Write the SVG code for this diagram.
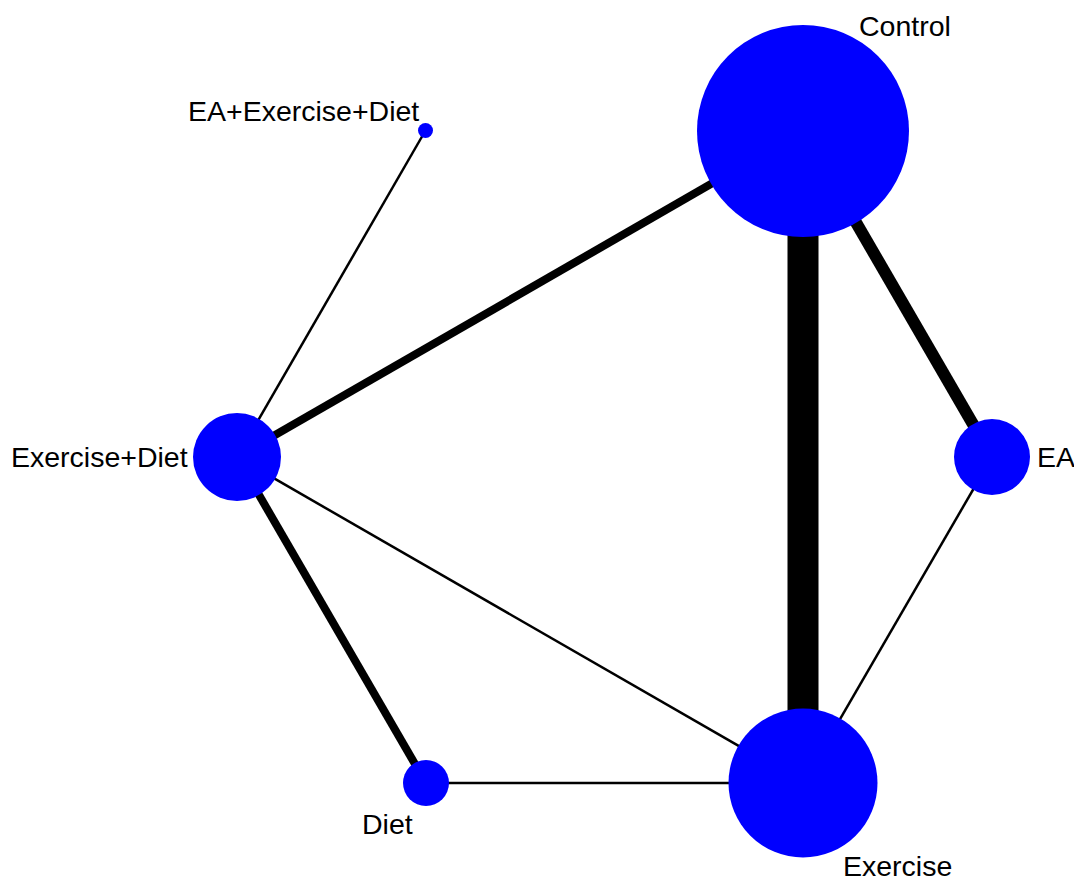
<svg xmlns="http://www.w3.org/2000/svg" width="1074" height="881" viewBox="0 0 1074 881">
<style>
.e{stroke:#000;fill:none;stroke-linecap:butt}
.n{fill:#0000ff}
.t{font-family:"Liberation Sans",Arial,sans-serif;font-size:28.5px;fill:#000}
</style>
<rect width="1074" height="881" fill="#fff"/>
<g id="connectors">
<line class="e" x1="803" y1="131" x2="803" y2="783" stroke-width="31"/>
<line class="e" x1="803" y1="131" x2="992" y2="457" stroke-width="12"/>
<line class="e" x1="803" y1="131" x2="237" y2="457" stroke-width="8"/>
<line class="e" x1="237" y1="457" x2="426" y2="783" stroke-width="8"/>
<line class="e" x1="237" y1="457" x2="425.5" y2="130.5" stroke-width="2.5"/>
<line class="e" x1="237" y1="457" x2="803" y2="783" stroke-width="2.5"/>
<line class="e" x1="426" y1="783" x2="803" y2="783" stroke-width="2.5"/>
<line class="e" x1="992" y1="457" x2="803" y2="783" stroke-width="2.5"/>
</g>
<g id="node-control"><circle class="n" cx="803" cy="131" r="106"/><text class="t" x="859" y="36">Control</text></g>
<g id="node-ea-exercise-diet"><circle class="n" cx="425.5" cy="130.5" r="7.5"/><text class="t" x="188" y="121">EA+Exercise+Diet</text></g>
<g id="node-exercise-diet"><circle class="n" cx="237" cy="457" r="44"/><text class="t" x="11" y="467">Exercise+Diet</text></g>
<g id="node-ea"><circle class="n" cx="992" cy="457" r="38"/><text class="t" x="1037" y="467">EA</text></g>
<g id="node-diet"><circle class="n" cx="426" cy="783" r="23"/><text class="t" x="362" y="834">Diet</text></g>
<g id="node-exercise"><circle class="n" cx="803" cy="783" r="74.5"/><text class="t" x="843" y="876">Exercise</text></g>
</svg>
